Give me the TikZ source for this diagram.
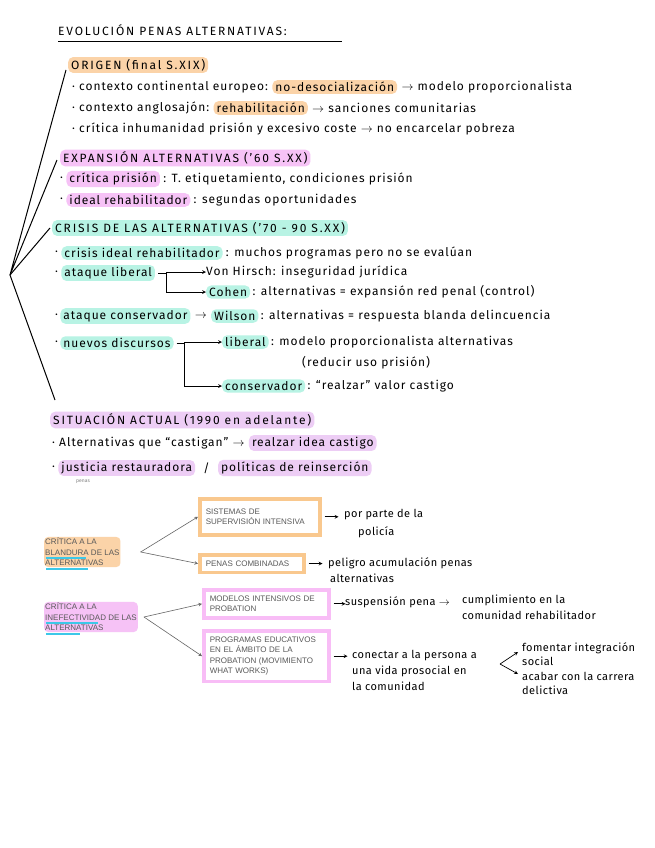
\documentclass[tikz,border=0pt]{standalone}
\usepackage{fontspec}
\setmainfont{Fira Sans}
\newfontfamily\boxfont{Liberation Sans}
\definecolor{hor}{HTML}{FBD3A8}
\definecolor{hpk}{HTML}{F6C2F6}
\definecolor{htl}{HTML}{B8F3E4}
\definecolor{hlv}{HTML}{EDCDF5}
\definecolor{bor}{HTML}{F9C88E}
\definecolor{bpk}{HTML}{F8BDF6}
\definecolor{ul}{HTML}{3CC8E8}
\newcommand\hwfont{\fontsize{12}{14}\selectfont\addfontfeatures{LetterSpace=8}}
\newcommand\hdfont{\fontsize{12}{14}\selectfont\addfontfeatures{LetterSpace=15}}
\begin{document}
\begin{tikzpicture}[x=1pt,y=-1pt,
  hw/.style={anchor=west,inner sep=0pt,font=\hwfont},
  hb/.style={anchor=west,inner sep=0pt,font=\fontsize{11}{13}\selectfont\addfontfeatures{LetterSpace=4}},
  hl/.style={anchor=west,inner sep=0pt,font=\hwfont,fill=#1,rounded corners=5pt,inner xsep=3pt,inner ysep=2pt},
  bx/.style={draw=#1,line width=3.5pt,anchor=north west,align=left,inner sep=6pt,font=\boxfont\fontsize{8}{10.5}\selectfont,text=black!65},
  ct/.style={anchor=west,align=left,inner sep=1pt,font=\boxfont\fontsize{8}{10.5}\selectfont,text=black!65},
  arr/.style={->,>=stealth,line width=0.7pt},
  gar/.style={->,>=stealth,line width=0.6pt,draw=black!60}]
\fill[white] (0,0) rectangle (655,848);
\useasboundingbox (0,0) rectangle (655,848);
% title
\node[anchor=west,inner sep=0pt,font=\hdfont] (t) at (58,30) {EVOLUCIÓN PENAS ALTERNATIVAS:};
\draw[line width=1pt] (58,42) -- (342,42);
% fan
\coordinate (v) at (10,275);
\coordinate (f1) at (66,70); \coordinate (f2) at (57,160);
\coordinate (f3) at (50,228); \coordinate (f4) at (55,400);
\draw[line width=1pt] (f1) -- (v) -- (f2); \draw[line width=1pt] (f3) -- (v) -- (f4);
% ORIGEN
\node[hl=hor,font=\hdfont] (o) at (68,65) {ORIGEN (final S.XIX)};
\node[hw] (o1) at (72,87) {· contexto continental europeo:};
\node[hl=hor] (o1b) at (o1.east) [xshift=4pt] {no-desocialización};
\node[hw] at (o1b.east) [xshift=4pt] {$\rightarrow$ modelo proporcionalista};
\node[hw] (o2) at (72,108) {· contexto anglosajón:};
\node[hl=hor] (o2b) at (o2.east) [xshift=4pt] {rehabilitación};
\node[hw] at (o2b.east) [xshift=4pt] {$\rightarrow$ sanciones comunitarias};
\node[hw] at (72,129) {· crítica inhumanidad prisión y excesivo coste $\rightarrow$ no encarcelar pobreza};
% EXPANSION
\node[hl=hpk,font=\hdfont] at (60,158) {EXPANSIÓN ALTERNATIVAS ('60 S.XX)};
\node[hw] (e1) at (60,179) {·};
\node[hl=hpk] (e1b) at (e1.east) [xshift=3pt] {crítica prisión};
\node[hw] at (e1b.east) [xshift=3pt] {: T. etiquetamiento, condiciones prisión};
\node[hw] (e2) at (60,200) {·};
\node[hl=hpk] (e2b) at (e2.east) [xshift=3pt] {ideal rehabilitador};
\node[hw] at (e2b.east) [xshift=3pt] {: segundas oportunidades};
% CRISIS
\node[hl=htl,font=\hdfont] at (52,228) {CRISIS DE LAS ALTERNATIVAS ('70 - 90 S.XX)};
\node[hw] (c1) at (55,253) {·};
\node[hl=htl] (c1b) at (c1.east) [xshift=3pt] {crisis ideal rehabilitador};
\node[hw] at (c1b.east) [xshift=3pt] {: muchos programas pero no se evalúan};
\node[hw] (c2) at (55,273) {·};
\node[hl=htl] (c2b) at (c2.east) [xshift=3pt] {ataque liberal};
\node[hw] (vh) at (206,272) {Von Hirsch: inseguridad jurídica};
\node[hl=htl] (co) at (206,292) {Cohen};
\node[hw] at (co.east) [xshift=2pt] {: alternativas = expansión red penal (control)};
\draw[arr] (c2b.east) ++(3,0) -- ++(8,0) coordinate (k1) |- (vh.west);
\draw[arr] (k1) |- (co.west);
\node[hw] (c3) at (55,316) {·};
\node[hl=htl] (c3b) at (c3.east) [xshift=2pt] {ataque conservador};
\node[hw] (c3c) at (c3b.east) [xshift=4pt] {$\rightarrow$};
\node[hl=htl] (wi) at (c3c.east) [xshift=4pt] {Wilson};
\node[hw] at (wi.east) [xshift=2pt] {: alternativas = respuesta blanda delincuencia};
\node[hw] (c4) at (55,343) {·};
\node[hl=htl] (c4b) at (c4.east) [xshift=2pt] {nuevos discursos};
\node[hl=htl] (li) at (222,342) {liberal};
\node[hw] at (li.east) [xshift=2pt] {: modelo proporcionalista alternativas};
\node[hw] at (302,363) {(reducir uso prisión)};
\node[hl=htl] (cv) at (222,386) {conservador};
\node[hw] at (cv.east) [xshift=2pt] {: ``realzar'' valor castigo};
\draw[arr] (c4b.east) ++(3,0) -- ++(8,0) coordinate (k2) |- (li.west);
\draw[arr] (k2) |- (cv.west);
% SITUACION
\node[hl=hlv,font=\hdfont] at (50,420) {SITUACIÓN ACTUAL (1990 en adelante)};
\node[hw] (s1) at (52,443) {· Alternativas que ``castigan'' $\rightarrow$};
\node[hl=hlv] at (s1.east) [xshift=4pt] {realzar idea castigo};
\node[hw] (s2) at (52,468) {·};
\node[hl=hlv] (s2b) at (s2.east) [xshift=3pt] {justicia restauradora};
\node[hw] (s2c) at (s2b.east) [xshift=8pt] {/};
\node[hl=hlv] at (s2c.east) [xshift=8pt] {políticas de reinserción};
\node[anchor=west,inner sep=0pt,font=\tiny,text=black!50] at (76,482) {penas};
% bottom diagram
\node[ct,fill=hor,rounded corners=4pt] (cb) at (44,552) {CRÍTICA A LA\\BLANDURA DE LAS\\ALTERNATIVAS};
\node[bx=bor,text width=108pt,minimum height=36pt] (b1) at (198,497) {SISTEMAS DE\\SUPERVISIÓN INTENSIVA};
\node[bx=bor,text width=92pt] (b2) at (198,553) {PENAS COMBINADAS};
\coordinate (p1) at ([xshift=20pt]cb.east);
\draw[gar] (p1) -- (b1.west); \draw[gar] (p1) -- (b2.west);
\node[hb] at (344,515) {por parte de la};
\node[hb] at (358,532) {policía};
\draw[arr] (b1.east) ++(3,0) -- ++(14,0);
\node[hb] at (328,563) {peligro acumulación penas};
\node[hb] at (330,578) {alternativas};
\draw[arr] (b2.east) ++(3,0) -- ++(14,0);
\node[ct,fill=hpk,rounded corners=4pt] (ci) at (44,617) {CRÍTICA A LA\\INEFECTIVIDAD DE LAS\\ALTERNATIVAS};
\draw[ul,line width=1.3pt] (46,558) -- (86,558);
\draw[ul,line width=1.3pt] (46,569) -- (88,569);
\draw[ul,line width=1.3pt] (46,623) -- (98,623);
\draw[ul,line width=1.3pt] (46,634) -- (80,634);
\node[bx=bpk,text width=113pt] (m1) at (202,588) {MODELOS INTENSIVOS DE\\PROBATION};
\node[bx=bpk,text width=113pt] (m2) at (202,629) {PROGRAMAS EDUCATIVOS\\EN EL ÁMBITO DE LA\\PROBATION (MOVIMIENTO\\WHAT WORKS)};
\coordinate (p2) at ([xshift=6pt]ci.east);
\draw[gar] (p2) -- (m1.west); \draw[gar] (p2) -- (m2.west);
\draw[arr] (m1.east) ++(3,0) -- ++(12,0);
\node[hb] at (345,602) {suspensión pena $\rightarrow$};
\node[hb] at (462,600) {cumplimiento en la};
\node[hb] at (462,615) {comunidad rehabilitador};
\draw[arr] (m2.east) ++(3,0) -- ++(14,0);
\node[hb] at (352,656) {conectar a la persona a};
\node[hb] at (352,671) {una vida prosocial en};
\node[hb] at (352,686) {la comunidad};
\coordinate (p3) at (500,664);
\draw[arr] (p3) -- (518,652); \draw[arr] (p3) -- (518,674);
\node[hb] at (522,648) {fomentar integración};
\node[hb] at (522,661) {social};
\node[hb] at (522,676) {acabar con la carrera};
\node[hb] at (522,690) {delictiva};
\end{tikzpicture}
\end{document}
